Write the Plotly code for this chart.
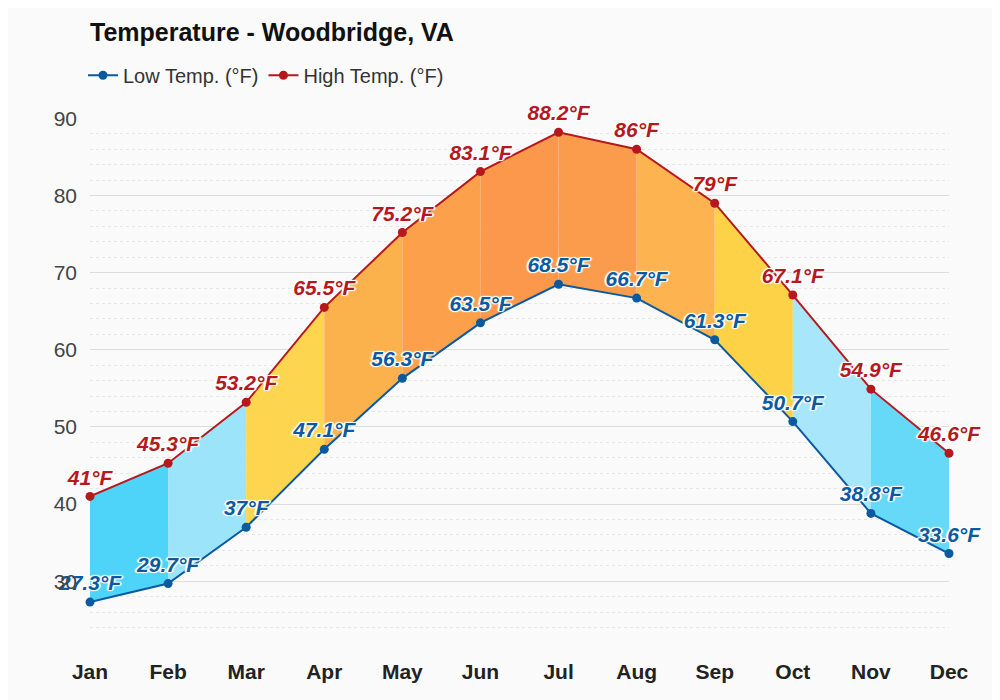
import plotly.graph_objects as go

months = ["Jan","Feb","Mar","Apr","May","Jun","Jul","Aug","Sep","Oct","Nov","Dec"]
low = [27.3,29.7,37,47.1,56.3,63.5,68.5,66.7,61.3,50.7,38.8,33.6]
high = [41,45.3,53.2,65.5,75.2,83.1,88.2,86,79,67.1,54.9,46.6]
seg_colors = ["#4dd4f8","#9ce4fa","#fdd54f","#fcb24c","#fca04c","#fb984b","#fb9c4d","#fdb34f","#fdd247","#a8e6fb","#66d9f8"]

def fmt(v):
    return (f"{v:g}") + "°F"

fig = go.Figure()
for i in range(len(months)-1):
    fig.add_trace(go.Scatter(
        x=[i, i+1, i+1, i, i],
        y=[low[i], low[i+1], high[i+1], high[i], low[i]],
        fill="toself", fillcolor=seg_colors[i], mode="none",
        showlegend=False, hoverinfo="skip"))

xi = list(range(len(months)))
shadow = "1px 1px 1px white, -1px -1px 1px white, 1px -1px 1px white, -1px 1px 1px white, 2px 0 1px white, -2px 0 1px white"
fig.add_trace(go.Scatter(
    x=xi, y=low, mode="lines+markers+text", name="Low Temp. (°F)", cliponaxis=False,
    line=dict(color="#0b5aa0", width=2), marker=dict(size=9, color="#0b5aa0"),
    text=[fmt(v) for v in low], textposition="top center",
    textfont=dict(size=21, color="#0b5aa0", family="Arial", style="italic", weight="bold", shadow=shadow)))
fig.add_trace(go.Scatter(
    x=xi, y=high, mode="lines+markers+text", name="High Temp. (°F)", cliponaxis=False,
    line=dict(color="#b5191d", width=2), marker=dict(size=9, color="#b5191d"),
    text=[fmt(v) for v in high], textposition="top center",
    textfont=dict(size=21, color="#b5191d", family="Arial", style="italic", weight="bold", shadow=shadow)))

fig.update_layout(
    width=1000, height=700, autosize=False,
    paper_bgcolor="#fafafa", plot_bgcolor="#fafafa",
    margin=dict(l=82, r=59, t=97, b=65),
    title=dict(text="<b>Temperature - Woodbridge, VA</b>", xref="container", yref="container",
               x=0.082, xanchor="left", y=0.966, yanchor="middle",
               font=dict(size=25, color="#111", family="Arial")),
    legend=dict(orientation="h", xref="container", yref="container", x=0.075, y=0.904,
                xanchor="left", yanchor="middle",
                font=dict(size=20, color="#333", family="Arial"), bgcolor="rgba(0,0,0,0)"),
    xaxis=dict(range=[0, 11], tickvals=xi, ticktext=[f"<b>{m}</b>" for m in months],
               showgrid=False, zeroline=False, tickfont=dict(size=21, color="#222", family="Arial"),
               ticklen=0, ticklabelstandoff=14),
    yaxis=dict(range=[22, 90], tickvals=[30,40,50,60,70,80,90], gridcolor="#dddddd",
               zeroline=False, tickfont=dict(size=21, color="#444", family="Arial"),
               ticklabelstandoff=12,
               minor=dict(dtick=2, showgrid=True, gridcolor="#e6e6e6", griddash="dot")),
    showlegend=True,
)
fig.write_html("out.html")
